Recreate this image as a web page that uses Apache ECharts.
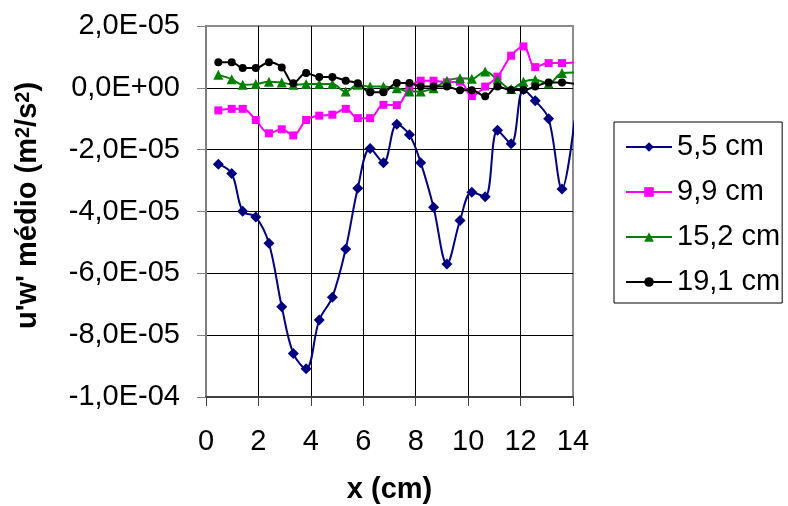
<!DOCTYPE html>
<html>
<head>
<meta charset="utf-8">
<script src="https://cdn.jsdelivr.net/npm/echarts@6/dist/echarts.min.js"></script>
<style>
  html, body { margin: 0; padding: 0; background: #fff; }
  #chart { width: 788px; height: 506px; }
</style>
</head>
<body>
<div id="chart"></div>
<script>
// Streamwise position along the section (cm)
const xPos = [0.47, 0.98, 1.40, 1.90, 2.40, 2.89, 3.33, 3.82, 4.32, 4.82, 5.33, 5.79, 6.26, 6.77,
  7.28, 7.76, 8.19, 8.68, 9.19, 9.69, 10.14, 10.65, 11.12, 11.64, 12.11, 12.56, 13.07, 13.58, 14.06];

// Mean u'w' values, in units of 1E-05 m²/s², one array per height
const uw_5_5 = [-2.47, -2.77, -3.99, -4.18, -5.03, -7.08, -8.59, -9.09, -7.51, -6.77, -5.21, -3.25, -1.96, -2.42,
  -1.18, -1.52, -2.42, -3.86, -5.70, -4.29, -3.38, -3.52, -1.37, -1.81, -0.05, -0.42, -1.00, -3.27, -1.05];
const uw_9_9 = [-0.73, -0.68, -0.68, -1.04, -1.47, -1.34, -1.54, -1.04, -0.90, -0.87, -0.68, -0.98, -0.98, -0.55,
  -0.56, 0.00, 0.23, 0.23, 0.18, 0.20, -0.27, 0.04, 0.36, 1.04, 1.34, 0.67, 0.80, 0.80, 0.82];
const uw_15_2 = [0.42, 0.28, 0.10, 0.12, 0.20, 0.17, 0.10, 0.12, 0.12, 0.12, -0.12, 0.10, 0.04, 0.04,
  -0.01, -0.12, -0.12, -0.01, 0.23, 0.31, 0.29, 0.53, 0.27, -0.04, 0.20, 0.26, 0.14, 0.48, 0.50];
const uw_19_1 = [0.83, 0.83, 0.64, 0.64, 0.83, 0.66, 0.15, 0.48, 0.35, 0.35, 0.23, 0.15, -0.14, -0.14,
  0.16, 0.16, 0.04, 0.04, 0.04, -0.08, -0.08, -0.27, 0.04, -0.07, -0.07, 0.04, 0.17, 0.17, 0.13];
const UNIT = 1e-5;

const seriesNames = ['5,5 cm', '9,9 cm', '15,2 cm', '19,1 cm'];
const seriesValues = [uw_5_5, uw_9_9, uw_15_2, uw_19_1];
const seriesColors = ['#000080', '#FF00FF', '#008000', '#000000'];
const seriesSymbols = ['diamond', 'rect', 'triangle', 'circle'];
const symbolSizes = [11, 8, 10, 8];

const FONT = '"Liberation Sans", Arial, sans-serif';
const FS = 29;

function sciLabel(v) {
  if (Math.abs(v) < 1e-12) return '0,0E+00';
  let exp = Math.floor(Math.log10(Math.abs(v)) + 1e-9);
  let mant = v / Math.pow(10, exp);
  mant = Math.round(mant * 10) / 10;
  if (Math.abs(mant) >= 10) { mant /= 10; exp += 1; }
  const sign = exp < 0 ? '-' : '+';
  const e = String(Math.abs(exp)).padStart(2, '0');
  return mant.toFixed(1).replace('.', ',') + 'E' + sign + e;
}

const chart = echarts.init(document.getElementById('chart'), null, { renderer: 'canvas' });

const series = seriesNames.map((name, i) => ({
  name: name,
  type: 'line',
  data: xPos.map((x, k) => [x, seriesValues[i][k] * UNIT]),
  smooth: 0.35,
  symbol: seriesSymbols[i],
  symbolSize: symbolSizes[i],
  showAllSymbol: true,
  clip: true,
  lineStyle: { color: seriesColors[i], width: 2 },
  itemStyle: { color: seriesColors[i] },
  emphasis: { disabled: true },
  animation: false
}));

chart.setOption({
  backgroundColor: '#ffffff',
  animation: false,
  grid: {
    left: 206, right: 215, top: 26, bottom: 109,
    containLabel: false,
    outerBoundsMode: 'none',
    show: true, borderColor: '#8c8c8c', borderWidth: 2, backgroundColor: 'transparent'
  },
  legend: {
    orient: 'vertical',
    left: 614, top: 122,
    data: seriesNames,
    itemWidth: 46, itemHeight: 12,
    itemGap: 13,
    padding: [9, 2, 5, 11],
    borderColor: '#000', borderWidth: 1,
    textStyle: { fontFamily: FONT, fontSize: FS, color: '#000', lineHeight: 32 },
    selectedMode: false
  },
  xAxis: {
    type: 'value',
    min: 0, max: 14, interval: 2,
    name: 'x (cm)',
    nameLocation: 'middle',
    nameGap: 78,
    nameTextStyle: { fontFamily: FONT, fontSize: FS, fontWeight: 'bold', color: '#000' },
    axisLine: { show: true, onZero: false, lineStyle: { color: '#404040', width: 2 } },
    axisTick: { show: true, length: 9, lineStyle: { color: '#404040', width: 1 } },
    axisLabel: { margin: 30, fontFamily: FONT, fontSize: FS, color: '#000' },
    splitLine: { show: true, lineStyle: { color: ['transparent', '#000', '#000', '#000', '#000', '#000', '#000', 'transparent'], width: 1 } }
  },
  yAxis: {
    type: 'value',
    min: -10e-5, max: 2e-5, interval: 2e-5,
    name: "u'w' médio (m{sup|2}/s{sup|2})",
    nameLocation: 'middle',
    nameGap: 164,
    nameRotate: 90,
    nameTextStyle: {
      fontFamily: FONT, fontSize: FS, fontWeight: 'bold', color: '#000',
      padding: [0, 0, 0, 12],
      rich: {
        sup: { fontFamily: FONT, fontSize: 20, fontWeight: 'bold', color: '#000', verticalAlign: 'top', lineHeight: 20, padding: [0, 0, 14, 0] }
      }
    },
    axisLine: { show: true, onZero: false, lineStyle: { color: '#808080', width: 2 } },
    axisTick: { show: true, length: 9, lineStyle: { color: '#808080', width: 1 } },
    axisLabel: { margin: 26, fontFamily: FONT, fontSize: FS, color: '#000', formatter: sciLabel },
    splitLine: { show: true, lineStyle: { color: ['transparent', '#000', '#000', '#000', '#000', '#000', 'transparent'], width: 1 } }
  },
  series: series
});
</script>
</body>
</html>
